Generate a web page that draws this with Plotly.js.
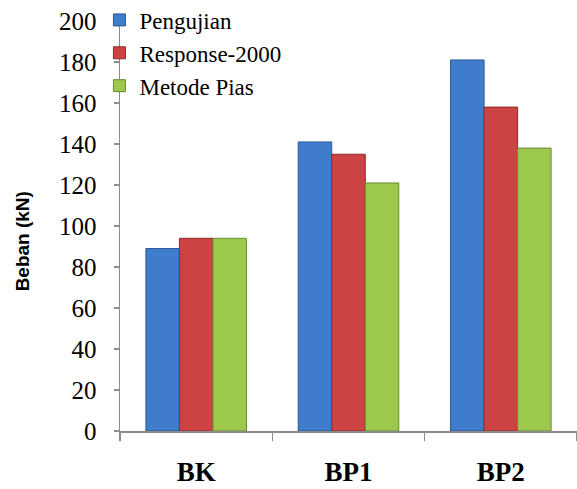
<!DOCTYPE html>
<html>
<head>
<meta charset="utf-8">
<script src="https://cdn.plot.ly/plotly-3.0.1.min.js"></script>
<style>html,body{margin:0;padding:0;background:#fff;}#chart{width:577px;height:489px;}</style>
</head>
<body>
<div id="chart"></div>
<script>
var categories = ["BK", "BP1", "BP2"];
var pengujian = [89, 141, 181];
var response2000 = [94, 135, 158];
var metodePias = [94, 121, 138];
var seriesNames = ["Pengujian", "Response-2000", "Metode Pias"];
var yTicks = [0, 20, 40, 60, 80, 100, 120, 140, 160, 180, 200];
var yTitle = "Beban (kN)";

var fills = ["#3f7ccb", "#cd4242", "#9cc84c"];
var lines = ["#2b5a94", "#8f2a2a", "#6b8a30"];
var vals = [pengujian, response2000, metodePias];

var data = vals.map(function(v, i) {
  return {
    type: "bar",
    name: seriesNames[i],
    x: categories,
    y: v,
    marker: {color: fills[i], line: {color: lines[i], width: 1}},
    hoverinfo: "none"
  };
});

var serif = "Liberation Serif, Times New Roman, serif";
var layout = {
  width: 577, height: 489,
  margin: {l: 120, r: 0, t: 21, b: 58, autoexpand: false},
  paper_bgcolor: "#fff", plot_bgcolor: "#fff",
  barmode: "group", bargap: 0.34, bargroupgap: 0,
  showlegend: true,
  legend: {x: -0.045, y: 1.055, xanchor: "left", yanchor: "top",
           font: {family: serif, size: 23, color: "#000"}, bgcolor: "rgba(0,0,0,0)",
           itemwidth: 30, traceorder: "normal"},
  xaxis: {
    type: "category", showline: true, linecolor: "#8c8c8c", linewidth: 1.5,
    ticks: "outside", tickson: "boundaries", ticklen: 8, tickcolor: "#8c8c8c", tickwidth: 1.5,
    tickfont: {family: serif, size: 27, color: "#000", weight: "bold"},
    ticklabelstandoff: 16, showgrid: false, zeroline: false, fixedrange: true, automargin: false
  },
  yaxis: {
    range: [0, 200], tickvals: yTicks, ticktext: yTicks.map(String),
    showline: true, linecolor: "#8c8c8c", linewidth: 1.5,
    ticks: "outside", ticklen: 5, tickcolor: "#8c8c8c", tickwidth: 1.5,
    tickfont: {family: serif, size: 25, color: "#000"}, ticklabelstandoff: 12,
    showgrid: false, zeroline: false, fixedrange: true, automargin: false
  },
  annotations: [{
    text: "<b>" + yTitle + "</b>", textangle: -90, showarrow: false,
    xref: "paper", yref: "paper", x: -0.214, y: 0.463, xanchor: "center", yanchor: "middle",
    font: {family: "Liberation Sans Narrow, Liberation Sans, Arial, sans-serif", size: 19, color: "#000"}
  }]
};

Plotly.newPlot("chart", data, layout, {staticPlot: true, displayModeBar: false});
</script>
</body>
</html>
